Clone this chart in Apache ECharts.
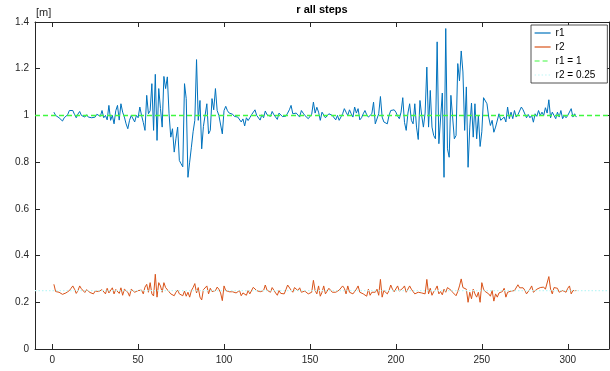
<!DOCTYPE html>
<html>
<head>
<meta charset="utf-8">
<script src="https://cdn.jsdelivr.net/npm/echarts@6/dist/echarts.min.js"></script>
<style>
  html, body { margin: 0; padding: 0; background: #fff; }
  #chart { width: 610px; height: 371px; }
</style>
</head>
<body>
<div id="chart"></div>
<script>
// Radius estimates per step (metres)
const r1 = [
  1.014, 1.000, 0.993, 0.990, 0.985, 0.976, 0.990, 0.995, 1.003, 1.021,
  1.014, 1.021, 1.004, 0.990, 1.006, 1.017, 1.000, 1.007, 0.993, 1.003,
  0.993, 1.000, 0.990, 0.997, 0.993, 1.005, 1.007, 0.996, 1.021, 0.990,
  1.000, 0.981, 1.043, 0.979, 1.000, 0.964, 1.020, 1.043, 0.980, 1.050,
  1.014, 0.993, 0.964, 0.943, 0.979, 1.000, 0.993, 0.972, 1.000, 0.990,
  1.036, 1.000, 0.970, 0.936, 1.086, 1.007, 1.020, 1.136, 0.936, 1.176,
  0.893, 1.115, 1.030, 0.950, 1.167, 1.115, 1.165, 1.007, 0.907, 0.943,
  0.843, 0.900, 0.950, 0.807, 0.793, 0.780, 1.136, 1.072, 0.735, 0.800,
  0.864, 0.930, 0.979, 1.239, 0.979, 1.064, 0.857, 0.953, 0.957, 1.050,
  0.921, 0.936, 1.072, 1.024, 1.115, 1.021, 1.000, 0.993, 0.921, 1.021,
  1.039, 1.020, 1.010, 1.014, 1.005, 0.996, 0.990, 0.993, 0.985, 0.972,
  0.985, 0.955, 0.990, 0.978, 0.990, 1.003, 1.010, 1.024, 1.000, 0.995,
  0.980, 1.003, 0.990, 1.019, 1.003, 1.010, 0.996, 1.017, 1.003, 0.995,
  0.983, 1.010, 1.017, 0.995, 1.003, 0.997, 1.010, 1.024, 1.043, 1.007,
  1.000, 1.010, 1.014, 0.993, 1.021, 1.010, 1.000, 0.993, 0.986, 0.980,
  1.005, 1.057, 1.010, 1.035, 1.014, 0.979, 1.014, 1.007, 0.990, 0.993,
  1.007, 1.010, 1.000, 0.993, 0.981, 1.000, 0.979, 0.993, 1.007, 1.029,
  1.014, 1.000, 1.024, 1.007, 0.993, 1.036, 1.010, 1.029, 0.981, 0.990,
  1.007, 1.021, 1.003, 0.993, 0.990, 1.007, 1.057, 0.964, 0.957, 1.007,
  1.081, 0.993, 0.972, 0.979, 0.964, 1.000, 1.021, 1.029, 1.024, 1.014,
  0.997, 0.986, 1.014, 1.076, 0.970, 0.936, 1.010, 1.050, 0.979, 0.964,
  1.050, 0.950, 0.897, 1.064, 1.000, 0.950, 1.010, 1.207, 0.950, 1.107,
  0.950, 0.914, 0.900, 1.315, 0.879, 0.886, 1.096, 0.735, 1.372, 0.857,
  0.821, 1.086, 1.079, 0.900, 0.914, 1.222, 1.148, 1.276, 1.186, 0.936,
  1.122, 0.778, 0.950, 1.053, 0.907, 1.050, 0.900, 1.000, 0.867, 0.930,
  1.076, 1.072, 1.050, 0.993, 0.957, 0.979, 0.928, 0.950, 0.943, 1.007,
  0.979, 0.986, 0.993, 0.972, 1.036, 0.986, 1.014, 0.986, 1.021, 0.993,
  1.003, 1.010, 1.036, 1.024, 1.019, 0.990, 1.004, 0.990, 1.000, 0.971,
  1.007, 0.996, 1.021, 1.000, 1.014, 1.000, 1.033, 1.010, 1.067, 0.990,
  1.014, 1.000, 0.986, 1.014, 0.993, 1.021, 0.986, 1.000, 0.990, 1.000,
  0.993, 1.029, 0.993, 1.007, 0.993
];

const r2 = [
  0.277, 0.246, 0.240, 0.243, 0.238, 0.234, 0.231, 0.240, 0.244, 0.250,
  0.260, 0.270, 0.256, 0.238, 0.250, 0.270, 0.258, 0.262, 0.242, 0.254,
  0.256, 0.242, 0.245, 0.236, 0.248, 0.252, 0.246, 0.250, 0.254, 0.258,
  0.236, 0.260, 0.240, 0.236, 0.262, 0.236, 0.255, 0.263, 0.238, 0.262,
  0.230, 0.256, 0.252, 0.243, 0.226, 0.256, 0.250, 0.243, 0.236, 0.250,
  0.246, 0.252, 0.236, 0.265, 0.277, 0.243, 0.284, 0.236, 0.227, 0.320,
  0.222, 0.284, 0.270, 0.243, 0.284, 0.263, 0.256, 0.245, 0.236, 0.238,
  0.228, 0.243, 0.252, 0.236, 0.243, 0.228, 0.248, 0.226, 0.243, 0.222,
  0.250, 0.263, 0.280, 0.240, 0.263, 0.222, 0.210, 0.254, 0.250, 0.270,
  0.236, 0.260, 0.246, 0.250, 0.250, 0.265, 0.256, 0.240, 0.207, 0.270,
  0.250, 0.256, 0.245, 0.250, 0.245, 0.248, 0.240, 0.236, 0.250, 0.228,
  0.240, 0.236, 0.230, 0.250, 0.236, 0.243, 0.264, 0.256, 0.250, 0.256,
  0.245, 0.243, 0.250, 0.274, 0.252, 0.250, 0.243, 0.263, 0.256, 0.240,
  0.230, 0.250, 0.238, 0.243, 0.236, 0.254, 0.274, 0.277, 0.252, 0.243,
  0.263, 0.270, 0.250, 0.262, 0.243, 0.250, 0.248, 0.243, 0.236, 0.238,
  0.243, 0.294, 0.250, 0.236, 0.270, 0.226, 0.243, 0.270, 0.236, 0.243,
  0.260, 0.256, 0.243, 0.236, 0.243, 0.248, 0.252, 0.256, 0.270, 0.260,
  0.236, 0.270, 0.243, 0.250, 0.236, 0.243, 0.256, 0.270, 0.243, 0.238,
  0.236, 0.243, 0.226, 0.256, 0.230, 0.243, 0.236, 0.243, 0.256, 0.230,
  0.298, 0.222, 0.250, 0.243, 0.236, 0.250, 0.274, 0.256, 0.245, 0.240,
  0.270, 0.248, 0.250, 0.260, 0.270, 0.243, 0.236, 0.270, 0.256, 0.256,
  0.236, 0.228, 0.243, 0.236, 0.240, 0.243, 0.236, 0.298, 0.236, 0.260,
  0.230, 0.245, 0.255, 0.270, 0.236, 0.246, 0.232, 0.256, 0.243, 0.263,
  0.256, 0.252, 0.243, 0.236, 0.228, 0.246, 0.270, 0.300, 0.263, 0.256,
  0.256, 0.200, 0.243, 0.215, 0.256, 0.236, 0.222, 0.243, 0.200, 0.284,
  0.256, 0.246, 0.243, 0.236, 0.226, 0.250, 0.205, 0.236, 0.222, 0.240,
  0.236, 0.246, 0.260, 0.222, 0.243, 0.250, 0.248, 0.256, 0.250, 0.256,
  0.275, 0.262, 0.270, 0.262, 0.252, 0.236, 0.243, 0.256, 0.270, 0.243,
  0.236, 0.256, 0.250, 0.263, 0.256, 0.265, 0.256, 0.260, 0.310, 0.256,
  0.236, 0.263, 0.256, 0.260, 0.243, 0.250, 0.250, 0.246, 0.243, 0.260,
  0.270, 0.236, 0.250, 0.243, 0.250
];

// Reference radii
const refR1 = 1;
const refR2 = 0.25;

// Axis limits and ticks
const xTicks = [0, 50, 100, 150, 200, 250, 300];
const xMin = -10, xMax = 324;
const yMin = 0, yMax = 1.4, yStep = 0.2;

const seriesNames = ['r1', 'r2', 'r1 = 1', 'r2 = 0.25'];

const AXIS_COLOR = '#262626';
const FONT = 'Liberation Sans, Arial, Helvetica, sans-serif';

const toPoints = vals => vals.map((v, i) => [i + 1, v]);
// a constant level spanning the full x range of the axes
const levelPoints = level => [[xMin, level], [xMax, level]];

const axisLineStyle = { color: AXIS_COLOR, width: 1 };

function xAxisDef(pos, showLabels) {
  return {
    type: 'value', position: pos, min: xMin, max: xMax,
    axisLine: { show: true, onZero: false, lineStyle: axisLineStyle },
    axisTick: { show: true, inside: true, length: 5, customValues: xTicks, lineStyle: axisLineStyle },
    axisLabel: { show: showLabels, customValues: xTicks, color: AXIS_COLOR, fontSize: 10, fontFamily: FONT, margin: 6 },
    splitLine: { show: false }
  };
}
function yAxisDef(pos, showLabels) {
  return {
    type: 'value', position: pos, min: yMin, max: yMax, interval: yStep,
    axisLine: { show: true, onZero: false, lineStyle: axisLineStyle },
    axisTick: { show: true, inside: true, length: 5, lineStyle: axisLineStyle },
    axisLabel: { show: showLabels, color: AXIS_COLOR, fontSize: 10, fontFamily: FONT, margin: 6 },
    splitLine: { show: false }
  };
}

const GREEN = '#40F840';
const CYAN = '#BDF6F6';

const chart = echarts.init(document.getElementById('chart'), null, { renderer: 'canvas' });

chart.setOption({
  animation: false,
  backgroundColor: '#ffffff',
  grid: { left: 35, right: 1, top: 22, bottom: 22, containLabel: false, outerBoundsMode: 'none' },
  xAxis: [xAxisDef('bottom', true), xAxisDef('top', false)],
  yAxis: [yAxisDef('left', true), yAxisDef('right', false)],
  graphic: [
    { type: 'text', x: 322, y: 10, silent: true,
      style: { text: 'r all steps', fill: '#000', font: 'bold 11px ' + FONT, textAlign: 'center', textVerticalAlign: 'middle' } },
    { type: 'text', x: 36, y: 13, silent: true,
      style: { text: '[m]', fill: AXIS_COLOR, font: '11px ' + FONT, textAlign: 'left', textVerticalAlign: 'middle' } }
  ],
  legend: {
    data: seriesNames,
    orient: 'vertical',
    left: 531, top: 25,
    padding: [3, 12, 3, 3],
    itemWidth: 16, itemHeight: 10, itemGap: 4,
    itemStyle: { opacity: 0 },
    lineStyle: { width: 1.2 },
    backgroundColor: '#ffffff',
    borderColor: AXIS_COLOR, borderWidth: 0.8, borderRadius: 0,
    textStyle: { color: '#000', fontSize: 10, fontFamily: FONT },
    selectedMode: false
  },
  series: [
    {
      name: seriesNames[0], type: 'line', data: toPoints(r1),
      symbol: 'none', lineStyle: { color: '#0072BD', width: 1 }, itemStyle: { color: '#0072BD' }
    },
    {
      name: seriesNames[1], type: 'line', data: toPoints(r2),
      symbol: 'none', lineStyle: { color: '#D95319', width: 1 }, itemStyle: { color: '#D95319' }
    },
    {
      name: seriesNames[2], type: 'line', data: levelPoints(refR1),
      symbol: 'none', silent: true,
      lineStyle: { color: GREEN, width: 1.5, type: [5, 3] }, itemStyle: { color: GREEN }
    },
    {
      name: seriesNames[3], type: 'line', data: levelPoints(refR2),
      symbol: 'none', silent: true,
      lineStyle: { color: CYAN, width: 1.3, type: [1.5, 2] }, itemStyle: { color: CYAN }
    }
  ]
});
</script>
</body>
</html>
